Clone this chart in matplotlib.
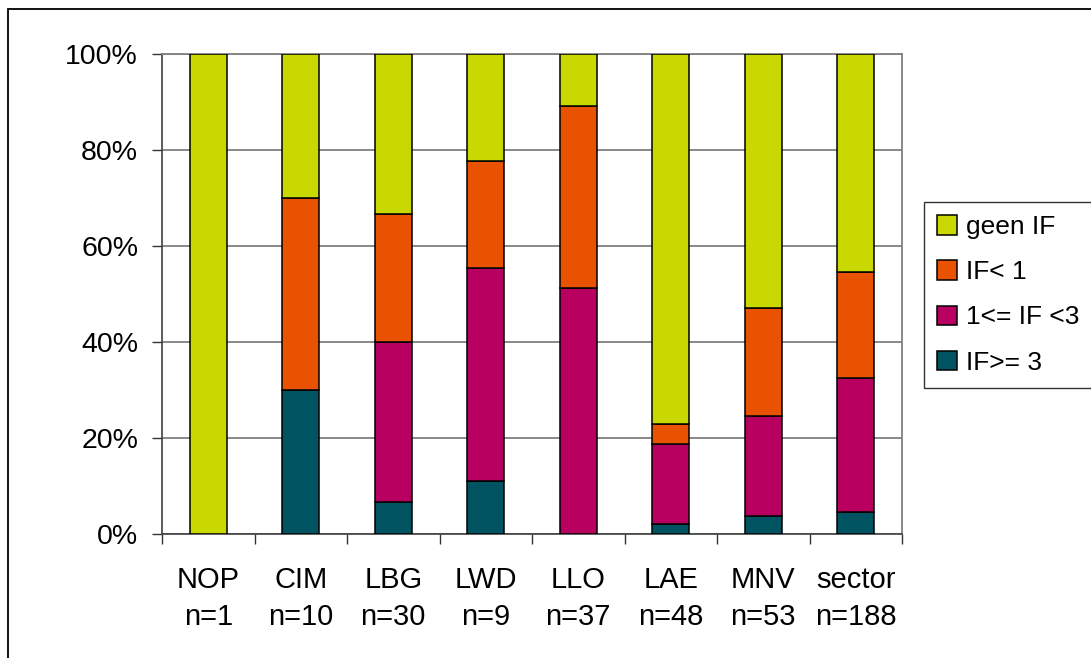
import matplotlib
matplotlib.use("Agg")
import matplotlib.pyplot as plt
from matplotlib.patches import Rectangle
import numpy as np

plt.rcParams['font.family'] = ['Liberation Sans', 'DejaVu Sans']

categories = ["NOP\nn=1", "CIM\nn=10", "LBG\nn=30", "LWD\nn=9", "LLO\nn=37",
              "LAE\nn=48", "MNV\nn=53", "sector\nn=188"]
series_names = ["geen IF", "IF< 1", "1<= IF <3", "IF>= 3"]
if_ge3 = [0, 30, 6.7, 11.1, 0, 2.1, 3.75, 4.6]
if_1to3 = [0, 0, 33.3, 44.4, 51.3, 16.65, 20.85, 28.0]
if_lt1 = [0, 40, 26.7, 22.3, 37.9, 4.25, 22.45, 22.0]
geen_if = [100, 30, 33.3, 22.2, 10.8, 77.0, 52.95, 45.4]
y_ticks = [0, 20, 40, 60, 80, 100]
y_labels = ["0%", "20%", "40%", "60%", "80%", "100%"]

colors = {"IF>= 3": "#005360", "1<= IF <3": "#B80060",
          "IF< 1": "#E85200", "geen IF": "#C8D800"}

W, H = 1091, 658
fig = plt.figure(figsize=(W / 100, H / 100), dpi=100)
ax = fig.add_axes([162 / W, (H - 534) / H, (902 - 162) / W, (534 - 54) / H])

x = np.arange(len(categories))
bw = 0.4
bottom = np.zeros(len(categories))
handles = {}
for name, vals in [("IF>= 3", if_ge3), ("1<= IF <3", if_1to3),
                   ("IF< 1", if_lt1), ("geen IF", geen_if)]:
    vals = np.array(vals, dtype=float)
    b = ax.bar(x, vals, bw, bottom=bottom, color=colors[name],
               edgecolor="black", linewidth=1.1, label=name, zorder=3)
    handles[name] = b
    bottom += vals

ax.set_xlim(-0.5, len(categories) - 0.5)
ax.set_ylim(0, 100)
ax.set_yticks(y_ticks)
ax.set_yticklabels(y_labels, fontsize=20.5)
ax.yaxis.grid(True, color="#808080", linewidth=1.3, zorder=0)
ax.set_axisbelow(True)

ax.set_xticks(np.arange(-0.5, len(categories), 1.0))
ax.set_xticklabels([])
ax.set_xticks(x, minor=True)
ax.set_xticklabels(categories, minor=True, fontsize=21, linespacing=1.4)
ax.tick_params(axis='x', which='minor', length=0, pad=23)
ax.tick_params(axis='x', which='major', length=7.2, width=1, color="#333333", direction='out')
ax.tick_params(axis='y', length=7.2, width=1, color="#333333", direction='out', pad=10)

for side in ["left", "bottom"]:
    ax.spines[side].set_color("#404040")
    ax.spines[side].set_linewidth(1.2)
for side in ["top", "right"]:
    ax.spines[side].set_color("#808080")
    ax.spines[side].set_linewidth(1.3)

leg = fig.legend([handles[n] for n in series_names], series_names,
                 loc="upper left", bbox_to_anchor=(924 / W, 1 - 202 / H),
                 bbox_transform=fig.transFigure, fontsize=19, frameon=True,
                 fancybox=False, edgecolor="black", labelspacing=0.8,
                 handlelength=0.75, handleheight=0.75, handletextpad=0.35,
                 borderpad=0.5, borderaxespad=0)
leg.get_frame().set_linewidth(1.0)

# outer border of the chart area
fig.patches.append(Rectangle((8 / W, -0.1), 2.0, 1 - 9 / H + 0.1,
                             transform=fig.transFigure, fill=False,
                             edgecolor="black", linewidth=1.3))

fig.savefig("out.png", dpi=100)
